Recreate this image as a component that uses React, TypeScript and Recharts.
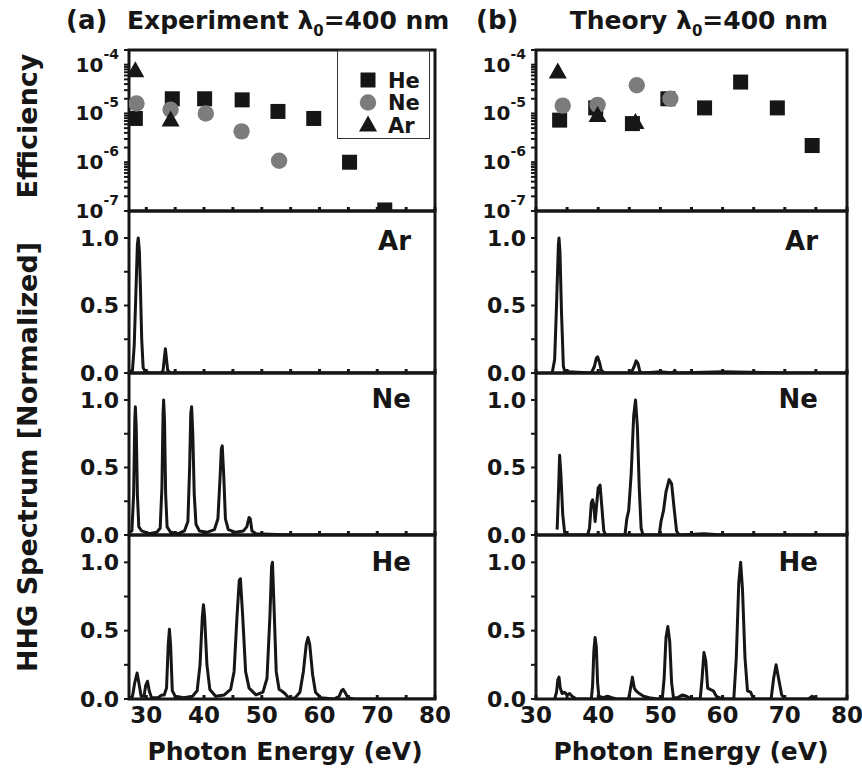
import React from "react";
import {
  LineChart,
  Line,
  ScatterChart,
  Scatter,
  XAxis,
  YAxis,
  ReferenceArea,
  Legend,
} from "recharts";

const INK = "#161616";
const GREY = "#7c7c7c";
const FONT = "'DejaVu Sans', 'Liberation Sans', Arial, sans-serif";

type Pt = [number, number];

// axes
const expDomain: [number, number] = [27, 80];
const theoDomain: [number, number] = [30, 80];
const energyTicks = [30, 35, 40, 45, 50, 55, 60, 65, 70, 75, 80];
const energyLabels = [30, 40, 50, 60, 70, 80];
const normTicks = [0, 0.25, 0.5, 0.75, 1.0];
const normLabels = [0, 0.5, 1.0];
const effDomain: [number, number] = [1e-7, 2e-4];
const effDecades = [1e-7, 1e-6, 1e-5, 1e-4];
const effMinorSteps = [2, 3, 4, 5, 6, 7, 8, 9];

// efficiency per harmonic: [photon energy eV, efficiency]
const expHeEff: Pt[] = [[28.1, 7.9e-6], [34.5, 2.0e-5], [40.1, 2.0e-5], [46.6, 1.9e-5], [52.8, 1.1e-5], [59.0, 7.9e-6], [65.2, 1.0e-6], [71.3, 1.05e-7]];
const expNeEff: Pt[] = [[28.3, 1.6e-5], [34.2, 1.2e-5], [40.3, 1.0e-5], [46.5, 4.3e-6], [53.0, 1.07e-6]];
const expArEff: Pt[] = [[28.1, 7.5e-5], [34.2, 7.3e-6]];
const theoHeEff: Pt[] = [[33.8, 7.3e-6], [39.6, 1.3e-5], [45.5, 6.2e-6], [51.2, 2.0e-5], [57.1, 1.3e-5], [62.9, 4.4e-5], [68.8, 1.3e-5], [74.4, 2.2e-6]];
const theoNeEff: Pt[] = [[34.3, 1.45e-5], [39.9, 1.5e-5], [46.2, 3.8e-5], [51.6, 2.0e-5]];
const theoArEff: Pt[] = [[33.5, 7.1e-5], [39.9, 9.1e-6], [46.0, 6.5e-6]];

// normalized spectra: [photon energy eV, intensity]
const expArSpec: Pt[] = [
  [27.0, 0.01], [27.6, 0.02], [27.9, 0.2], [28.2, 0.6], [28.45, 0.95], [28.6, 1.0], [28.8, 0.9],
  [29.0, 0.6], [29.2, 0.25], [29.45, 0.04], [29.8, 0.01], [30.5, 0.0], [32.6, 0.0], [32.9, 0.02],
  [33.1, 0.1], [33.3, 0.18], [33.5, 0.1], [33.7, 0.02], [34.2, 0.0], [45, 0.0], [60, 0.0], [80, 0.0],
];
const expNeSpec: Pt[] = [
  [27.0, 0.02], [27.5, 0.03], [27.8, 0.3], [28.0, 0.85], [28.1, 0.95], [28.25, 0.8], [28.45, 0.3],
  [28.7, 0.06], [29.2, 0.03], [30.5, 0.01], [31.8, 0.02], [32.4, 0.05], [32.7, 0.35], [32.9, 0.9],
  [33.0, 1.0], [33.15, 0.85], [33.35, 0.3], [33.6, 0.06], [34.2, 0.02], [35.5, 0.01], [36.6, 0.03],
  [37.2, 0.1], [37.5, 0.5], [37.7, 0.9], [37.85, 0.95], [38.05, 0.75], [38.3, 0.3], [38.6, 0.08],
  [39.2, 0.03], [40.5, 0.02], [41.8, 0.04], [42.4, 0.12], [42.8, 0.45], [43.0, 0.64], [43.15, 0.66],
  [43.4, 0.45], [43.7, 0.12], [44.2, 0.04], [45.5, 0.02], [46.8, 0.03], [47.4, 0.06], [47.8, 0.13],
  [48.0, 0.12], [48.3, 0.03], [49.0, 0.01], [55.0, 0.0], [80.0, 0.0],
];
const expHeSpec: Pt[] = [
  [27.0, 0.0], [27.6, 0.02], [28.0, 0.12], [28.4, 0.19], [28.7, 0.12], [29.1, 0.02], [29.6, 0.02],
  [29.9, 0.1], [30.2, 0.13], [30.5, 0.06], [30.9, 0.01], [32.0, 0.01], [32.7, 0.03], [33.1, 0.03],
  [33.5, 0.08], [33.8, 0.4], [34.0, 0.51], [34.2, 0.4], [34.5, 0.06], [35.0, 0.02], [36.5, 0.01],
  [38.0, 0.02], [38.8, 0.06], [39.3, 0.25], [39.7, 0.6], [39.9, 0.69], [40.1, 0.6], [40.5, 0.25],
  [41.0, 0.07], [42.0, 0.02], [43.5, 0.03], [44.6, 0.07], [45.2, 0.2], [45.7, 0.6], [46.1, 0.87],
  [46.3, 0.88], [46.7, 0.6], [47.2, 0.2], [47.8, 0.08], [49.0, 0.03], [50.2, 0.05], [50.9, 0.15],
  [51.4, 0.6], [51.7, 0.97], [51.85, 1.0], [52.1, 0.7], [52.5, 0.2], [53.0, 0.07], [53.4, 0.06],
  [54.0, 0.04], [54.8, 0.0], [55.8, 0.01], [56.6, 0.05], [57.2, 0.2], [57.7, 0.4], [58.0, 0.45],
  [58.3, 0.4], [58.8, 0.18], [59.3, 0.05], [60.2, 0.01], [62.5, 0.0], [63.4, 0.02], [63.8, 0.06],
  [64.1, 0.07], [64.4, 0.05], [64.9, 0.01], [66.0, 0.0], [70.0, 0.0], [80.0, 0.0],
];
const theoArSpec: Pt[] = [
  [32.6, 0.0], [33.0, 0.1], [33.3, 0.5], [33.6, 0.95], [33.7, 1.0], [33.85, 0.9], [34.1, 0.45],
  [34.4, 0.05], [34.7, 0.0], [35.2, 0.01], [38.9, 0.0], [39.4, 0.05], [39.7, 0.11], [39.9, 0.12],
  [40.2, 0.08], [40.5, 0.02], [41.0, 0.0], [45.3, 0.0], [45.8, 0.05], [46.1, 0.09], [46.4, 0.07],
  [46.7, 0.01], [47.2, 0.0], [50.0, 0.01], [52.0, 0.0], [52.3, 0.02], [52.6, 0.0], [60.0, 0.01],
  [70.0, 0.0], [80.0, 0.0],
];
const theoNeSpec: Pt[] = [
  [33.4, 0.04], [33.6, 0.3], [33.8, 0.59], [34.0, 0.45], [34.3, 0.15], [34.6, 0.02], [35.0, 0.0],
  [38.3, 0.0], [38.6, 0.05], [38.9, 0.24], [39.1, 0.26], [39.3, 0.22], [39.5, 0.1], [39.7, 0.2],
  [40.0, 0.35], [40.3, 0.37], [40.6, 0.2], [40.9, 0.03], [41.2, 0.0], [44.3, 0.0], [44.6, 0.12],
  [44.9, 0.18], [45.3, 0.45], [45.7, 0.88], [46.0, 1.0], [46.3, 0.8], [46.6, 0.35], [46.9, 0.05],
  [47.2, 0.0], [49.8, 0.0], [50.1, 0.1], [50.5, 0.18], [50.9, 0.32], [51.4, 0.41], [51.8, 0.38],
  [52.2, 0.2], [52.6, 0.03], [53.0, 0.0], [57.0, 0.01], [60.0, 0.0], [80.0, 0.0],
];
const theoHeSpec: Pt[] = [
  [33.0, 0.0], [33.3, 0.05], [33.5, 0.14], [33.7, 0.16], [33.9, 0.08], [34.2, 0.04], [34.6, 0.05],
  [35.0, 0.03], [35.4, 0.04], [35.8, 0.02], [36.5, 0.0], [38.9, 0.0], [39.1, 0.1], [39.3, 0.35],
  [39.5, 0.45], [39.7, 0.38], [39.9, 0.12], [40.1, 0.02], [40.8, 0.01], [41.5, 0.02], [42.2, 0.01],
  [43.0, 0.0], [44.9, 0.0], [45.2, 0.08], [45.5, 0.16], [45.8, 0.08], [46.1, 0.06], [46.6, 0.04],
  [47.3, 0.02], [48.2, 0.01], [49.5, 0.0], [50.3, 0.0], [50.6, 0.15], [50.9, 0.45], [51.2, 0.53],
  [51.5, 0.42], [51.8, 0.12], [52.1, 0.01], [52.8, 0.01], [53.5, 0.03], [54.2, 0.02], [55.0, 0.0],
  [56.4, 0.0], [56.7, 0.15], [57.0, 0.34], [57.3, 0.28], [57.6, 0.08], [58.0, 0.07], [58.5, 0.06],
  [59.0, 0.02], [60.0, 0.0], [61.8, 0.0], [62.2, 0.3], [62.6, 0.85], [62.9, 1.0], [63.2, 0.8],
  [63.6, 0.3], [64.0, 0.06], [64.5, 0.05], [65.0, 0.0], [67.8, 0.0], [68.2, 0.15], [68.6, 0.25],
  [69.0, 0.15], [69.5, 0.03], [70.0, 0.0], [73.8, 0.0], [74.4, 0.02], [75.0, 0.0],
];

const effTicks = effDecades.flatMap((d) =>
  d === 1e-4 ? [d, 2 * d] : [d, ...effMinorSteps.map((m) => m * d)]
);

const toRows = (pts: Pt[]) => pts.map(([x, y]) => ({ x, y }));

// layout
const ROWS = [50, 211, 373, 535, 699];
const PAD = 14;
const RIGHT_PAD = 15;
const COLS = {
  exp: { left: 50, axisW: 79, right: 435, domain: expDomain },
  theo: { left: 450, axisW: 86, right: 847, domain: theoDomain },
};
type Col = typeof COLS.exp;

const tickFont = { fill: INK, fontSize: 22, fontWeight: 700, fontFamily: FONT };

function SquareDot(p: any) {
  if (p.cx == null) return null;
  return <rect x={p.cx - 7.5} y={p.cy - 7.5} width={15} height={15} fill={INK} />;
}
function CircleDot(p: any) {
  if (p.cx == null) return null;
  return <circle cx={p.cx} cy={p.cy} r={8.2} fill={GREY} />;
}
function TriangleDot(p: any) {
  if (p.cx == null) return null;
  const { cx, cy } = p;
  return <polygon points={`${cx},${cy - 9.5} ${cx - 9},${cy + 6.5} ${cx + 9},${cy + 6.5}`} fill={INK} />;
}

const legendItems = [
  { name: "He", Dot: SquareDot },
  { name: "Ne", Dot: CircleDot },
  { name: "Ar", Dot: TriangleDot },
];

function EffLegend() {
  return (
    <div style={{ width: 93, height: 89, border: "1.5px solid #333", boxSizing: "border-box" }}>
      <svg width={90} height={86}>
        {legendItems.map((it, i) => (
          <g key={it.name}>
            <it.Dot cx={30} cy={29 + i * 22.5} />
            <text x={50} y={29 + i * 22.5 + 7.5} fontSize={21} fontWeight={700} fontFamily={FONT} fill={INK}>
              {it.name}
            </text>
          </g>
        ))}
      </svg>
    </div>
  );
}

function LogTick(p: any) {
  const v = p.payload.value;
  const e = Math.log10(v);
  if (Math.abs(e - Math.round(e)) > 1e-6) return null;
  return (
    <text x={p.x} y={p.y} textAnchor="end" fontFamily={FONT} fontWeight={700} fill={INK}>
      <tspan fontSize={20} dy={7}>10</tspan>
      <tspan fontSize={14} dy={-13}>{String(Math.round(e))}</tspan>
    </text>
  );
}

function xAxisFor(col: Col, bottom: boolean) {
  return (
    <XAxis
      type="number"
      dataKey="x"
      domain={col.domain}
      allowDataOverflow
      ticks={energyTicks}
      interval={0}
      axisLine={false}
      tickSize={-4}
      tickMargin={bottom ? 12 : 0}
      height={bottom ? 40 : PAD}
      tickLine={{ stroke: INK, strokeWidth: 3 }}
      tick={{ ...tickFont, fontSize: 23 }}
      tickFormatter={(v: number) => (bottom && energyLabels.includes(v) ? String(v) : "")}
    />
  );
}

function EffPanel({ col, he, ne, ar, legend }: { col: Col; he: Pt[]; ne: Pt[]; ar: Pt[]; legend?: boolean }) {
  const top = ROWS[0];
  const h = PAD + (ROWS[1] - top) + PAD;
  return (
    <div style={{ position: "absolute", left: col.left, top: top - PAD }}>
      <ScatterChart width={col.right + RIGHT_PAD - col.left} height={h} margin={{ top: PAD, right: RIGHT_PAD, bottom: 0, left: 0 }}>
        {xAxisFor(col, false)}
        <YAxis
          type="number"
          dataKey="y"
          scale="log"
          domain={effDomain}
          allowDataOverflow
          ticks={effTicks}
          interval={0}
          width={col.axisW}
          axisLine={false}
          tickSize={5}
          tickMargin={5}
          tickLine={{ stroke: INK, strokeWidth: 2 }}
          tick={(p: any) => <LogTick {...p} />}
        />
        <ReferenceArea x1={col.domain[0]} x2={col.domain[1]} y1={effDomain[0]} y2={effDomain[1]} fill="none" stroke={INK} strokeWidth={3} ifOverflow="visible" />
        <Scatter name="He" data={toRows(he)} shape={SquareDot} isAnimationActive={false} />
        <Scatter name="Ne" data={toRows(ne)} shape={CircleDot} isAnimationActive={false} />
        <Scatter name="Ar" data={toRows(ar)} shape={TriangleDot} isAnimationActive={false} />
        {legend && (
          <Legend
            layout="vertical"
            align="center"
            verticalAlign="middle"
            wrapperStyle={{ left: 337 - col.left, top: 50 - (top - PAD), width: 93, height: 89 }}
            content={() => <EffLegend />}
          />
        )}
      </ScatterChart>
    </div>
  );
}

function SpectrumPanel({ col, row, data }: { col: Col; row: number; data: Pt[] }) {
  const top = ROWS[row];
  const bottom = row === 3;
  const xh = bottom ? 40 : PAD;
  const h = PAD + (ROWS[row + 1] - top) + xh;
  return (
    <div style={{ position: "absolute", left: col.left, top: top - PAD }}>
      <LineChart width={col.right + RIGHT_PAD - col.left} height={h} data={toRows(data)} margin={{ top: PAD, right: RIGHT_PAD, bottom: 0, left: 0 }}>
        {xAxisFor(col, bottom)}
        <YAxis
          type="number"
          domain={[0, 1.2]}
          allowDataOverflow
          ticks={normTicks}
          interval={0}
          width={col.axisW}
          axisLine={false}
          tickSize={5}
          tickMargin={5}
          tickLine={{ stroke: INK, strokeWidth: 2 }}
          tick={tickFont}
          tickFormatter={(v: number) => (normLabels.includes(v) ? v.toFixed(1) : "")}
        />
        <ReferenceArea x1={col.domain[0]} x2={col.domain[1]} y1={0} y2={1.2} fill="none" stroke={INK} strokeWidth={3} ifOverflow="visible" />
        <Line dataKey="y" type="linear" stroke={INK} strokeWidth={3} strokeLinejoin="round" dot={false} isAnimationActive={false} />
      </LineChart>
    </div>
  );
}

const text = { fontFamily: FONT, fontWeight: 700, fill: INK } as const;

function Labels() {
  const gas = [
    { name: "Ar", y: 250 },
    { name: "Ne", y: 408 },
    { name: "He", y: 571 },
  ];
  return (
    <svg width={862} height={772} style={{ position: "absolute", left: 0, top: 0, pointerEvents: "none" }}>
      <text {...text} x={66} y={29} fontSize={26}>(a)</text>
      <text {...text} x={127} y={29} fontSize={25}>
        Experiment λ<tspan fontSize={15} dy={7}>0</tspan>
        <tspan dy={-7}>=400 nm</tspan>
      </text>
      <text {...text} x={476} y={29} fontSize={26}>(b)</text>
      <text {...text} x={828} y={29} fontSize={25} textAnchor="end">
        Theory λ<tspan fontSize={15} dy={7}>0</tspan>
        <tspan dy={-7}>=400 nm</tspan>
      </text>
      <text {...text} fontSize={27} textAnchor="middle" transform="translate(37,126) rotate(-90)">Efficiency</text>
      <text {...text} fontSize={27} textAnchor="middle" transform="translate(37,457) rotate(-90)">HHG Spectrum [Normalized]</text>
      <text {...text} fontSize={25} textAnchor="middle" x={285} y={760}>Photon Energy (eV)</text>
      <text {...text} fontSize={25} textAnchor="middle" x={691} y={760}>Photon Energy (eV)</text>
      {gas.map((g) => (
        <g key={g.name}>
          <text {...text} fontSize={26} textAnchor="end" x={411} y={g.y}>{g.name}</text>
          <text {...text} fontSize={26} textAnchor="end" x={818} y={g.y}>{g.name}</text>
        </g>
      ))}
    </svg>
  );
}

export default function App() {
  // panels drawn bottom to top so labels on shared edges stay on top
  return (
    <div style={{ position: "absolute", left: 0, top: 0, width: 862, height: 772, background: "#fff", overflow: "hidden" }}>
      <SpectrumPanel col={COLS.exp} row={3} data={expHeSpec} />
      <SpectrumPanel col={COLS.exp} row={2} data={expNeSpec} />
      <SpectrumPanel col={COLS.exp} row={1} data={expArSpec} />
      <EffPanel col={COLS.exp} he={expHeEff} ne={expNeEff} ar={expArEff} legend />
      <SpectrumPanel col={COLS.theo} row={3} data={theoHeSpec} />
      <SpectrumPanel col={COLS.theo} row={2} data={theoNeSpec} />
      <SpectrumPanel col={COLS.theo} row={1} data={theoArSpec} />
      <EffPanel col={COLS.theo} he={theoHeEff} ne={theoNeEff} ar={theoArEff} />
      <Labels />
    </div>
  );
}
